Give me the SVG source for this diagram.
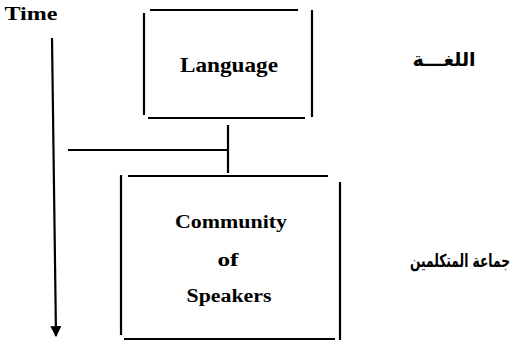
<svg xmlns="http://www.w3.org/2000/svg" width="514" height="344" viewBox="0 0 514 344">
<defs>
<style>
.ln{stroke:#000;stroke-width:2.2;fill:none;stroke-linecap:butt}
.t{font-family:"Liberation Serif","DejaVu Serif",serif;font-weight:bold;fill:#000;text-anchor:middle}
.ar{font-family:"DejaVu Sans","Noto Sans",sans-serif;font-weight:bold;fill:#000;text-anchor:middle}
</style>
<marker id="ah" viewBox="0 0 10 10" refX="9" refY="5" markerWidth="5" markerHeight="5" orient="auto" markerUnits="strokeWidth">
<path d="M0,0 L10,5 L0,10 Z" fill="#000"/>
</marker>
</defs>
<rect width="514" height="344" fill="#fff"/>
<g id="time">
<text class="t" x="31" y="20" font-size="18" textLength="53" lengthAdjust="spacingAndGlyphs">Time</text>
<path class="ln" d="M52,38 L56,336" marker-end="url(#ah)"/>
</g>
<g id="language">
<path class="ln" d="M150,10 L298,10 M144,13 L144,115 M312,10 L312,117 M148,118 L305,118"/>
<text class="t" x="229" y="72" font-size="21" textLength="98" lengthAdjust="spacingAndGlyphs">Language</text>
</g>
<g id="community">
<path class="ln" d="M128,176 L328,176 M121,175 L121,335 M340,182 L340,340 M124,339 L335,339"/>
<text class="t" x="231" y="228" font-size="18" textLength="112" lengthAdjust="spacingAndGlyphs">Community</text>
<text class="t" x="228" y="266" font-size="19" textLength="21" lengthAdjust="spacingAndGlyphs">of</text>
<text class="t" x="229" y="302" font-size="18" textLength="85" lengthAdjust="spacingAndGlyphs">Speakers</text>
</g>
<g id="connectors">
<path class="ln" d="M228,125 L228,173 M68,150 L228,150"/>
</g>
<g id="arabic-language">
<text class="ar" transform="translate(444,66)" x="0" y="0" font-size="19">اللغـــة</text>
</g>
<g id="arabic-community">
<text class="ar" transform="translate(460,267) scale(0.68,1)" x="0" y="0" font-size="18">جماعة المتكلمين</text>
</g>
</svg>
